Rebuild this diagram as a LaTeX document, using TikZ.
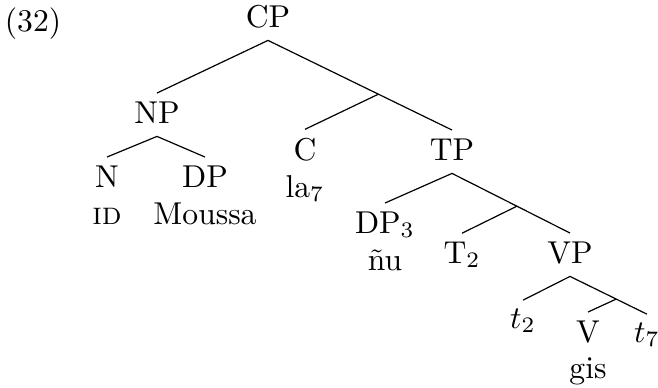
\documentclass[tikz,border=0pt]{standalone}
\usepackage{graphicx}
\usetikzlibrary{positioning,calc}
\newcommand{\lbl}[1]{\scalebox{1.58}{#1}}

\begin{document}
\begin{tikzpicture}[x=0.5pt,y=-0.5pt]
    \useasboundingbox (0,0) rectangle (658,387);
    \begin{scope}[node distance=18.5pt,
        cat/.style={anchor=base, inner sep=4pt, text depth=2.5pt},
        word/.style={anchor=base, inner sep=4pt},
        branch/.style={line width=0.6pt}]
    \node [word] (exnum) at (33,31) {\lbl{(32)}};
    \node [cat] (cp) at (268,27) {\lbl{CP}};
    % left branch
    \node [cat] (np) at (157,123) {\lbl{NP}};
    \node [cat] (n) at (107,187) {\lbl{N}};
    \node [word, below=of n.base, anchor=base] (id) {\lbl{\textsc{id}}};
    \node [cat] (dp) at (205,187) {\lbl{DP}};
    \node [word, below=of dp.base, anchor=base] (moussa) {\lbl{Moussa}};
    % right branch
    \node [cat] (c) at (305,160) {\lbl{C}};
    \node [word, below=of c.base, anchor=base] (la) {\lbl{la$_7$}};
    \node [cat] (tp) at (452,160) {\lbl{TP}};
    \node [cat] (dpthree) at (385,233) {\lbl{DP$_3$}};
    \node [word, below=of dpthree.base, anchor=base] (nu) {\lbl{ñu}};
    \node [cat] (ttwo) at (462,263) {\lbl{T$_2$}};
    \node [cat] (vp) at (570,263) {\lbl{VP}};
    \node [cat] (trtwo) at (523,328) {\lbl{$t_2$}};
    \node [cat] (v) at (588,342) {\lbl{V}};
    \node [word, below=18pt of v.base, anchor=base] (gis) {\lbl{gis}};
    \node [cat] (trseven) at (647,342) {\lbl{$t_7$}};
    % junctions of the unlabelled nodes
    \coordinate (cbar) at ($(cp.south)!0.6!(tp.north)$);
    \coordinate (tbar) at ($(tp.south)!0.55!(vp.north)$);
    \coordinate (vbar) at ($(vp.south)!0.6!(trseven.north)$);
    \draw [branch] (cp.south) -- (np.north);
    \draw [branch] (cp.south) -- (tp.north);
    \draw [branch] (cbar) -- (c.north);
    \draw [branch] (np.south) -- (n.north);
    \draw [branch] (np.south) -- (dp.north);
    \draw [branch] (tp.south) -- (dpthree.north);
    \draw [branch] (tp.south) -- (vp.north);
    \draw [branch] (tbar) -- (ttwo.north);
    \draw [branch] (vp.south) -- (trtwo.north);
    \draw [branch] (vp.south) -- (trseven.north);
    \draw [branch] (vbar) -- (v.north);
    \end{scope}
\end{tikzpicture}
\end{document}
